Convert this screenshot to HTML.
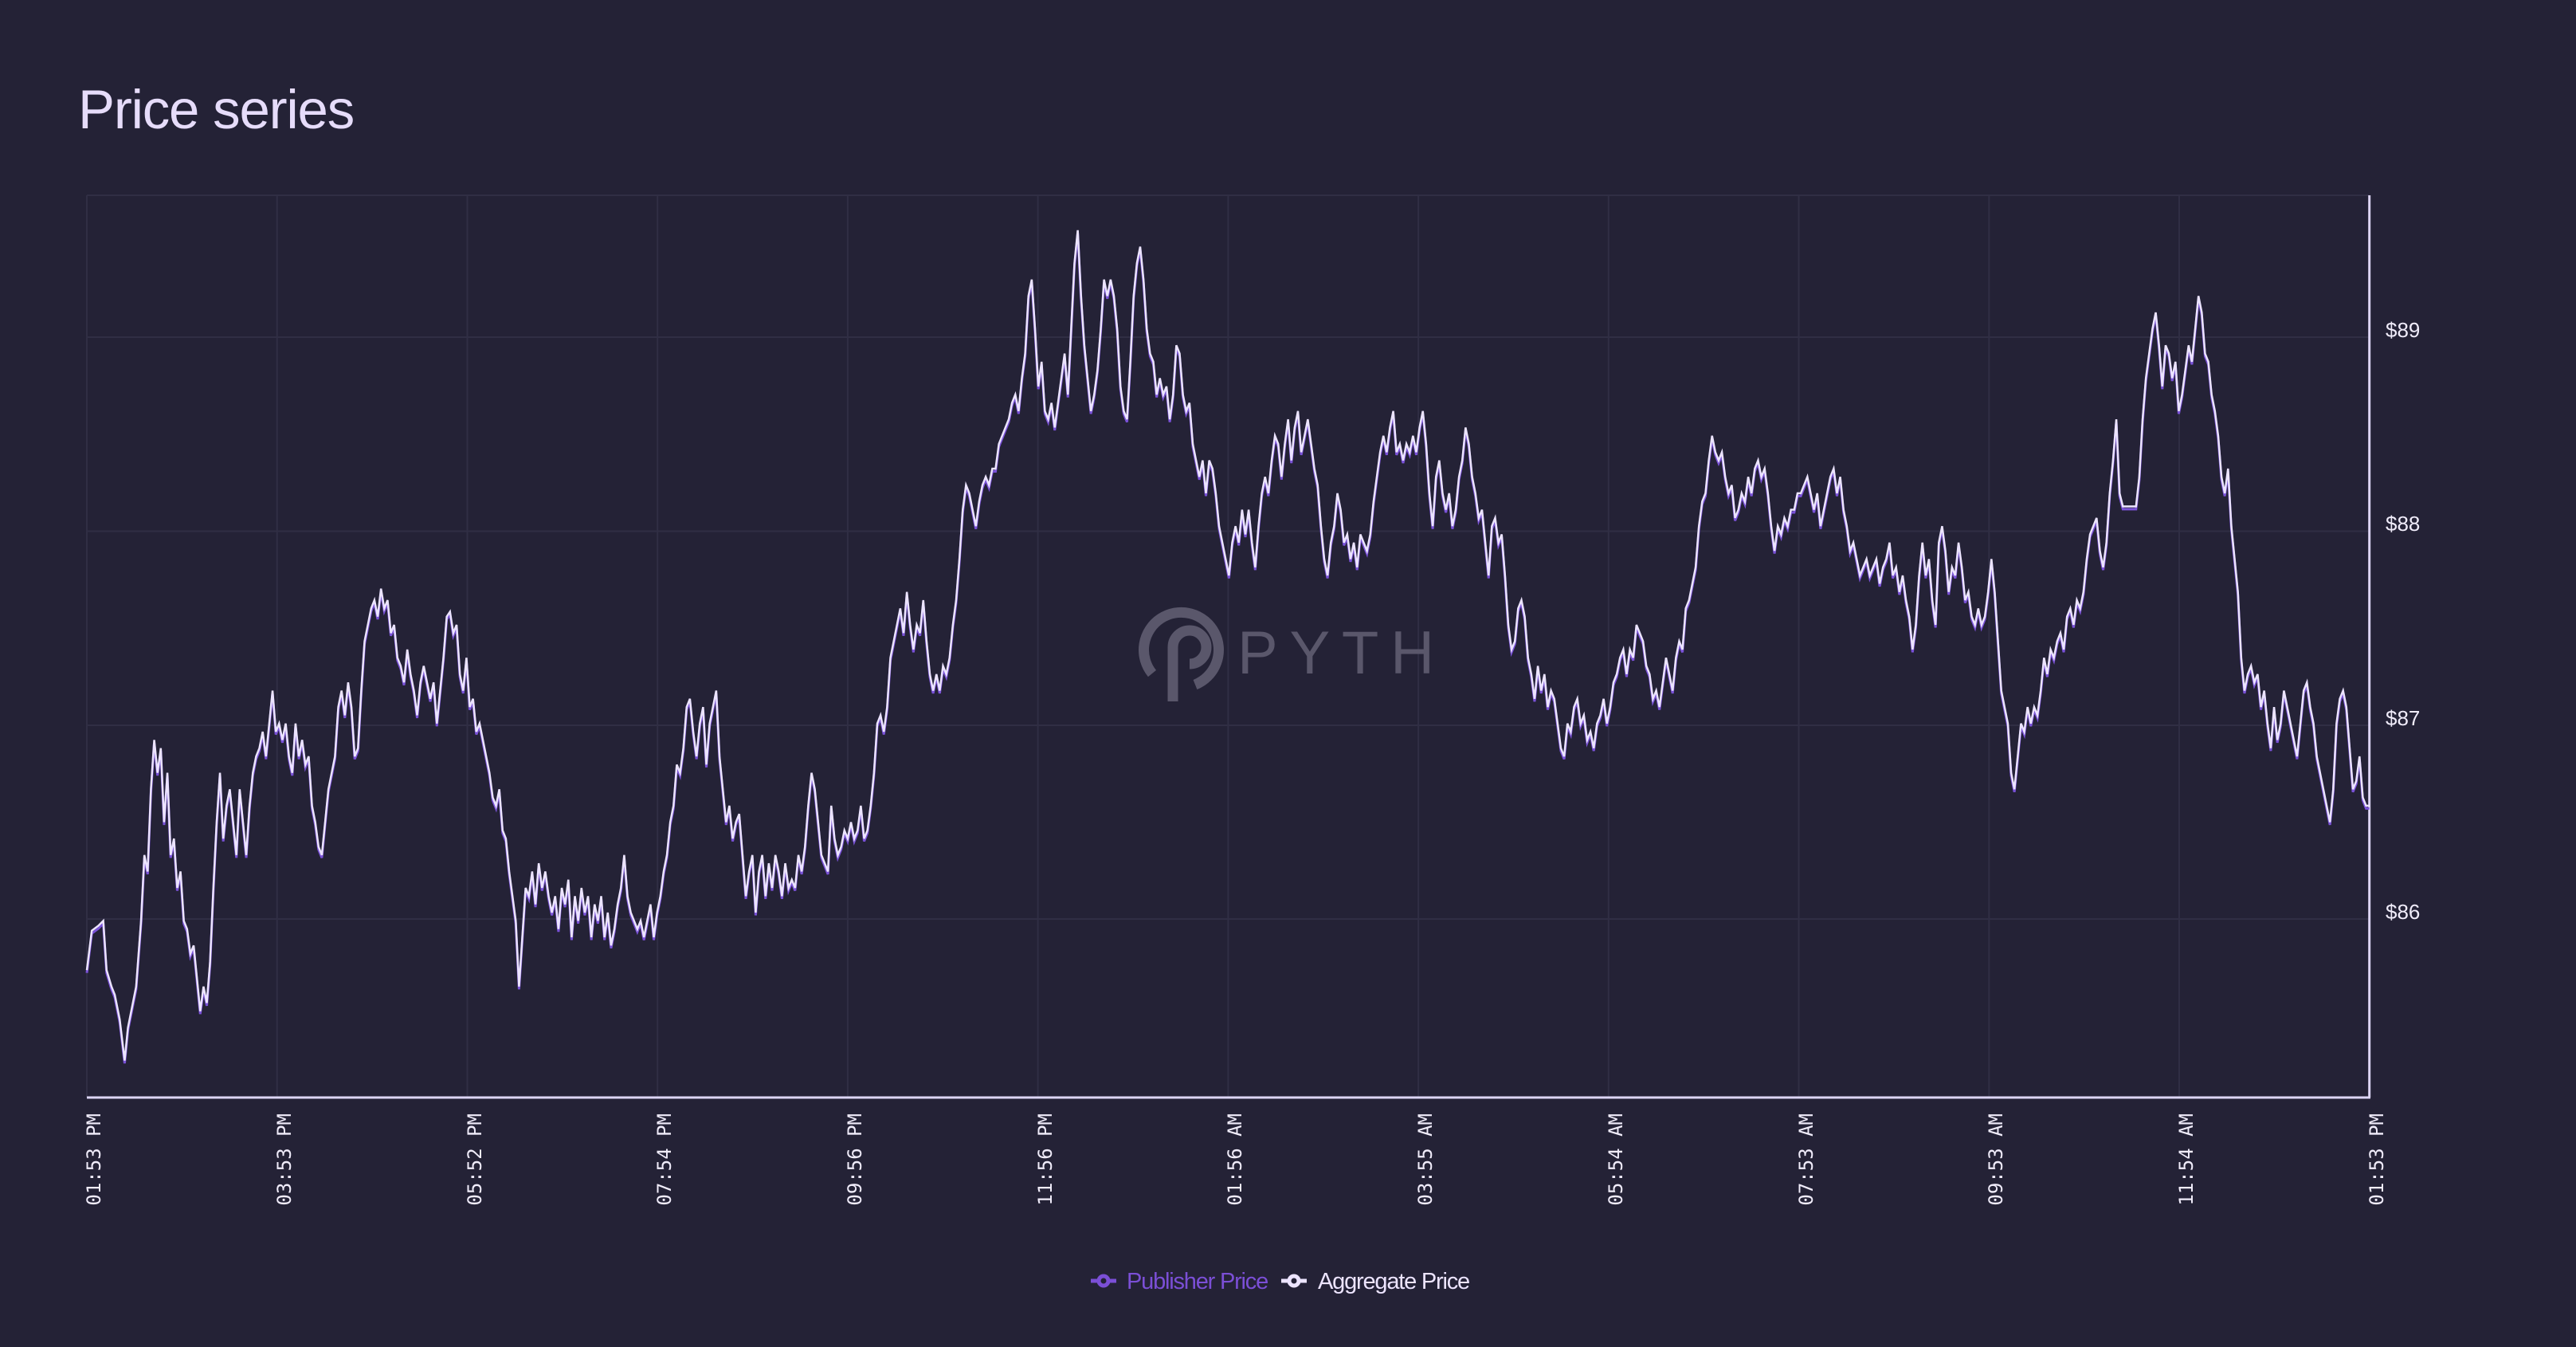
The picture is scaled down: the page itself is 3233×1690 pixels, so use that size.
<!DOCTYPE html>
<html><head><meta charset="utf-8"><style>
html,body{margin:0;padding:0;background:#242236;}
body{width:3233px;height:1690px;overflow:hidden;position:relative;font-family:"Liberation Sans",sans-serif;}
.title{position:absolute;left:98px;top:98px;font-size:69px;color:#e6dcfa;letter-spacing:-1.2px;}
</style></head><body>
<div class="title">Price series</div>
<svg width="3233" height="1690" style="position:absolute;left:0;top:0">
<g stroke="#302e44" stroke-width="2">
<line x1="109" y1="245" x2="2973.7" y2="245"/>
<line x1="109" y1="423" x2="2973.7" y2="423"/>
<line x1="109" y1="666.5" x2="2973.7" y2="666.5"/>
<line x1="109" y1="910" x2="2973.7" y2="910"/>
<line x1="109" y1="1153" x2="2973.7" y2="1153"/>
<line x1="109" y1="245" x2="109" y2="1377"/>
<line x1="347.7" y1="245" x2="347.7" y2="1377"/>
<line x1="586.5" y1="245" x2="586.5" y2="1377"/>
<line x1="825.2" y1="245" x2="825.2" y2="1377"/>
<line x1="1063.9" y1="245" x2="1063.9" y2="1377"/>
<line x1="1302.6" y1="245" x2="1302.6" y2="1377"/>
<line x1="1541.4" y1="245" x2="1541.4" y2="1377"/>
<line x1="1780.1" y1="245" x2="1780.1" y2="1377"/>
<line x1="2018.8" y1="245" x2="2018.8" y2="1377"/>
<line x1="2257.5" y1="245" x2="2257.5" y2="1377"/>
<line x1="2496.3" y1="245" x2="2496.3" y2="1377"/>
<line x1="2735" y1="245" x2="2735" y2="1377"/>
</g>
<!-- watermark -->
<g fill="none" stroke="#5a576b" stroke-width="13">
<path d="M1446 845 A47 47 0 1 1 1500 859"/>
<path d="M1472 880 L1472 812 A21 21 0 1 1 1493 833"/>
</g>
<text x="1553" y="845" font-family="Liberation Sans,sans-serif" font-size="76" fill="#5a576b" textLength="247" lengthAdjust="spacing">PYTH</text>
<line x1="2973.7" y1="245" x2="2973.7" y2="1377" stroke="#ddd5f5" stroke-width="3"/>
<line x1="109" y1="1377" x2="2975" y2="1377" stroke="#ddd5f5" stroke-width="3"/>
<g font-family="Liberation Sans,sans-serif" font-size="26" fill="#f0ecfa">
<text x="2994" y="423">$89</text><text x="2994" y="666">$88</text><text x="2994" y="910">$87</text><text x="2994" y="1153">$86</text>
</g>
<g font-family="DejaVu Sans Mono,monospace" font-size="24" fill="#f0ecfa" text-anchor="end">
<text transform="translate(126,1397) rotate(-90)">01:53 PM</text>
<text transform="translate(365,1397) rotate(-90)">03:53 PM</text>
<text transform="translate(604,1397) rotate(-90)">05:52 PM</text>
<text transform="translate(842,1397) rotate(-90)">07:54 PM</text>
<text transform="translate(1081,1397) rotate(-90)">09:56 PM</text>
<text transform="translate(1320,1397) rotate(-90)">11:56 PM</text>
<text transform="translate(1558,1397) rotate(-90)">01:56 AM</text>
<text transform="translate(1797,1397) rotate(-90)">03:55 AM</text>
<text transform="translate(2036,1397) rotate(-90)">05:54 AM</text>
<text transform="translate(2275,1397) rotate(-90)">07:53 AM</text>
<text transform="translate(2513,1397) rotate(-90)">09:53 AM</text>
<text transform="translate(2752,1397) rotate(-90)">11:54 AM</text>
<text transform="translate(2991,1397) rotate(-90)">01:53 PM</text>
</g>
<defs>
<polyline id="s" fill="none" vector-effect="non-scaling-stroke" points="53,590 56,566 60,563 63,560 65,590 68,600 70,605 73,620 76,645 78,625 80,615 83,600 86,560 88,520 90,530 92,480 94,450 96,470 98,455 100,500 102,470 104,520 106,510 108,540 110,530 112,560 114,565 116,580 118,575 120,595 122,615 124,600 126,610 128,585 130,540 132,500 134,470 136,510 138,490 140,480 142,500 144,520 146,480 148,500 150,520 152,490 154,470 156,460 158,455 160,445 162,460 164,440 166,420 168,445 170,440 172,450 174,440 176,460 178,470 180,440 182,460 184,450 186,465 188,460 190,490 192,500 194,515 196,520 198,500 200,480 202,470 204,460 206,430 208,420 210,435 212,415 214,430 216,460 218,455 220,420 222,390 224,380 226,370 228,365 230,375 232,358 234,370 236,365 238,385 240,380 242,400 244,405 246,415 248,395 250,410 252,420 254,435 256,415 258,405 260,415 262,425 264,415 266,440 268,420 270,400 272,375 274,372 276,385 278,380 280,410 282,420 284,400 286,430 288,425 290,445 292,440 294,450 296,460 298,470 300,485 302,490 304,480 306,505 308,510 310,530 312,545 314,560 316,600 318,570 320,540 322,545 324,530 326,550 328,525 330,540 332,530 334,545 336,555 338,545 340,565 342,540 344,550 346,535 348,570 350,545 352,560 354,540 356,555 358,545 360,570 362,550 364,560 366,545 368,570 370,555 372,575 374,565 376,550 378,540 380,520 382,545 384,555 386,560 388,565 390,560 392,570 394,560 396,550 398,570 400,555 402,545 404,530 406,520 408,500 410,490 412,465 414,470 416,455 418,430 420,425 422,445 424,460 426,440 428,430 430,465 432,440 434,430 436,420 438,460 440,480 442,500 444,490 446,510 448,500 450,495 452,520 454,545 456,530 458,520 460,555 462,530 464,520 466,545 468,525 470,540 472,520 474,530 476,545 478,525 480,540 482,535 484,540 486,520 488,530 490,515 492,490 494,470 496,480 498,500 500,520 502,525 504,530 506,490 508,510 510,520 512,515 514,505 516,510 518,500 520,510 522,505 524,490 526,510 528,505 530,490 532,470 534,440 536,435 538,445 540,430 542,400 544,390 546,380 548,370 550,385 552,360 554,380 556,395 558,380 560,385 562,365 564,390 566,410 568,420 570,410 572,420 574,405 576,410 578,400 580,380 582,365 584,340 586,310 588,295 590,300 592,310 594,320 596,305 598,295 600,290 602,295 604,285 606,285 608,270 610,265 612,260 614,255 616,245 618,240 620,250 622,230 624,215 626,180 628,170 630,200 632,235 634,220 636,250 638,255 640,245 642,260 644,245 646,230 648,215 650,240 652,200 654,160 656,140 658,180 660,210 662,230 664,250 666,240 668,225 670,200 672,170 674,180 676,170 678,180 680,200 682,235 684,250 686,255 688,220 690,180 692,160 694,150 696,170 698,200 700,215 702,220 704,240 706,230 708,240 710,235 712,255 714,240 716,210 718,215 720,240 722,250 724,245 726,270 728,280 730,290 732,280 734,300 736,280 738,285 740,300 742,320 744,330 746,340 748,350 750,330 752,320 754,330 756,310 758,325 760,310 762,330 764,345 766,320 768,300 770,290 772,300 774,280 776,265 778,270 780,290 782,270 784,255 786,280 788,260 790,250 792,275 794,265 796,255 798,270 800,285 802,295 804,320 806,340 808,350 810,330 812,320 814,300 816,310 818,330 820,325 822,340 824,330 826,345 828,325 830,330 832,335 834,325 836,305 838,290 840,275 842,265 844,275 846,260 848,250 850,275 852,270 854,280 856,270 858,275 860,265 862,275 864,260 866,250 868,270 870,300 872,320 874,290 876,280 878,300 880,310 882,300 884,320 886,310 888,290 890,280 892,260 894,270 896,290 898,300 900,315 902,310 904,330 906,350 908,320 910,315 912,330 914,325 916,350 918,380 920,395 922,390 924,370 926,365 928,375 930,400 932,410 934,425 936,405 938,420 940,410 942,430 944,420 946,425 948,440 950,455 952,460 954,440 956,445 958,430 960,425 962,440 964,435 966,450 968,445 970,455 972,440 974,435 976,425 978,440 980,430 982,415 984,410 986,400 988,395 990,410 992,395 994,400 996,380 998,385 1000,390 1002,405 1004,410 1006,425 1008,420 1010,430 1012,415 1014,400 1016,410 1018,420 1020,400 1022,390 1024,395 1026,370 1028,365 1030,355 1032,345 1034,320 1036,305 1038,300 1040,280 1042,265 1044,275 1046,280 1048,275 1050,290 1052,300 1054,295 1056,315 1058,310 1060,300 1062,305 1064,290 1066,300 1068,285 1070,280 1072,290 1074,285 1076,300 1078,320 1080,335 1082,320 1084,325 1086,315 1088,320 1090,310 1092,310 1094,300 1096,300 1098,295 1100,290 1102,300 1104,310 1106,300 1108,320 1110,310 1112,300 1114,290 1116,285 1118,300 1120,290 1122,310 1124,320 1126,335 1128,330 1130,340 1132,350 1134,345 1136,340 1138,350 1140,345 1142,340 1144,355 1146,345 1148,340 1150,330 1152,350 1154,345 1156,360 1158,350 1160,365 1162,375 1164,395 1166,380 1168,350 1170,330 1172,350 1174,340 1176,365 1178,380 1180,330 1182,320 1184,335 1186,360 1188,345 1190,350 1192,330 1194,345 1196,365 1198,360 1200,375 1202,380 1204,370 1206,380 1208,375 1210,360 1212,340 1214,360 1216,390 1218,420 1220,430 1222,440 1224,470 1226,480 1228,460 1230,440 1232,445 1234,430 1236,440 1238,430 1240,435 1242,420 1244,400 1246,410 1248,395 1250,400 1252,390 1254,385 1256,395 1258,375 1260,370 1262,380 1264,365 1266,370 1268,360 1270,340 1272,325 1274,320 1276,315 1278,335 1280,345 1282,330 1284,300 1286,280 1288,255 1290,300 1292,308 1294,308 1296,308 1298,308 1300,308 1302,290 1304,255 1306,230 1308,215 1310,200 1312,190 1314,210 1316,235 1318,210 1320,215 1322,230 1324,220 1326,250 1328,240 1330,225 1332,210 1334,220 1336,200 1338,180 1340,190 1342,215 1344,220 1346,240 1348,250 1350,265 1352,290 1354,300 1356,285 1358,320 1360,340 1362,360 1364,400 1366,420 1368,410 1370,405 1372,415 1374,410 1376,430 1378,420 1380,440 1382,455 1384,430 1386,450 1388,440 1390,420 1392,430 1394,440 1396,450 1398,460 1400,440 1402,420 1404,415 1406,430 1408,440 1410,460 1412,470 1414,480 1416,490 1418,500 1420,480 1422,440 1424,425 1426,420 1428,430 1430,455 1432,480 1434,475 1436,460 1438,485 1440,490 1442,490"/>
</defs>
<g transform="translate(109,3.5) scale(2.0624,2.063) translate(-53,0)">
<use href="#s" stroke="#7a52d8" stroke-width="3"/>
</g>
<g transform="translate(109,0) scale(2.0624,2.063) translate(-53,0)">
<use href="#s" stroke="#ece4ff" stroke-width="2.5"/>
</g>
<!-- legend -->
<g stroke-width="5" fill="#242236">
<line x1="1369" y1="1607" x2="1401" y2="1607" stroke="#7b4fd6"/>
<circle cx="1385" cy="1607" r="6" stroke="#7b4fd6"/>
<line x1="1608" y1="1607" x2="1640" y2="1607" stroke="#ece4ff"/>
<circle cx="1624" cy="1607" r="6" stroke="#ece4ff"/>
</g>
<g font-family="Liberation Sans,sans-serif" font-size="29" letter-spacing="-1.2">
<text x="1414" y="1617" fill="#7b4fd6">Publisher Price</text>
<text x="1654" y="1617" fill="#ece4ff">Aggregate Price</text>
</g>
</svg>
</body></html>
